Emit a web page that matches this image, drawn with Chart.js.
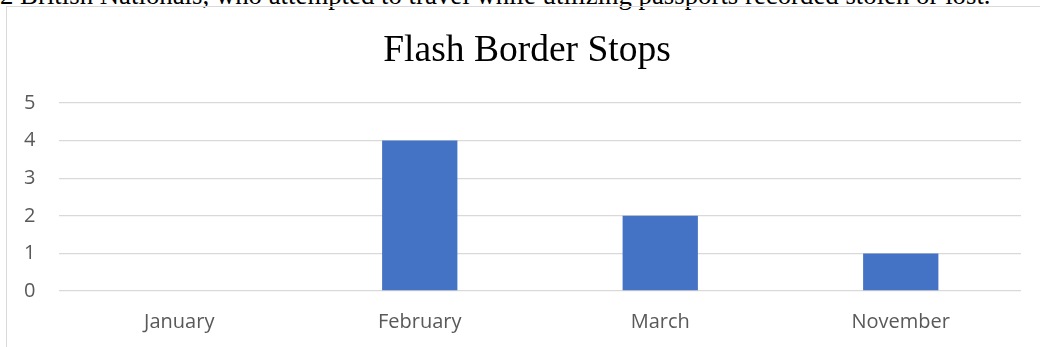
<!DOCTYPE html>
<html>
<head>
<meta charset="utf-8">
<script src="https://cdn.jsdelivr.net/npm/chart.js@4"></script>
<style>
    html, body { margin: 0; padding: 0; background: #fff; overflow: hidden; }
    body { width: 1040px; height: 347px; position: relative; }
    #lead {
        position: absolute; left: 0; top: -20px; line-height: 30px;
        font-family: "Liberation Serif", "Times New Roman", serif;
        font-size: 26.8px; white-space: nowrap; color: #000;
    }
    #frame {
        position: absolute; left: 6px; top: 6px; width: 1100px; height: 400px;
        border: 1.5px solid #d9d9d9; box-sizing: border-box;
    }
    #chartBox { position: absolute; left: 0; top: 0; width: 1040px; height: 347px; }
</style>
</head>
<body>
<div id="lead">2 British Nationals, who attempted to travel while utilizing passports recorded stolen or lost.</div>
<div id="frame"></div>
<div id="chartBox"><canvas id="stopsChart" width="1040" height="347"></canvas></div>

<script>
// ========================================
// Flash Border Stops : bar chart
// ========================================

const months = ["January", "February", "March", "November"];
const stops = [0, 4, 2, 1];
const yTicks = [0, 1, 2, 3, 4, 5];

const chartTitle = "Flash Border Stops";

document.addEventListener("DOMContentLoaded", () => {
    const ctx = document.getElementById("stopsChart").getContext("2d");
    const axisFont = { family: "'Open Sans', 'Noto Sans', sans-serif", size: 20 };

    new Chart(ctx, {
        type: "bar",
        data: {
            labels: months,
            datasets: [
                {
                    label: "Stops",
                    data: stops,
                    backgroundColor: "#4472C4",
                    borderWidth: 0,
                    barPercentage: 0.313,
                    categoryPercentage: 1
                }
            ]
        },
        options: {
            responsive: false,
            animation: false,
            // left padding pushes the title centre to where the reference has it
            layout: { padding: { left: 33, right: 19, top: 0, bottom: 0 } },
            plugins: {
                legend: { display: false },
                tooltip: { enabled: false },
                title: {
                    display: true,
                    text: chartTitle,
                    color: "#000000",
                    font: { family: "'Liberation Serif', 'Times New Roman', serif", size: 37.5, weight: "normal" },
                    padding: { top: 29, bottom: 29 }
                }
            },
            scales: {
                x: {
                    grid: { display: false, drawTicks: false },
                    border: { display: false },
                    ticks: {
                        color: "#595959",
                        font: axisFont,
                        padding: 19,
                        maxRotation: 0
                    },
                    afterFit: (scale) => { scale.height = 56; }
                },
                y: {
                    min: 0,
                    max: 5,
                    afterBuildTicks: (scale) => { scale.ticks = yTicks.map(v => ({ value: v })); },
                    grid: { color: "#d9d9d9", lineWidth: 1.3, drawTicks: false },
                    border: { display: false },
                    // mirror keeps the labels from being clipped to the narrow axis box
                    ticks: {
                        color: "#595959",
                        font: axisFont,
                        mirror: true,
                        padding: -35
                    },
                    afterFit: (scale) => { scale.width = 26; }
                }
            }
        }
    });
});
</script>
</body>
</html>
